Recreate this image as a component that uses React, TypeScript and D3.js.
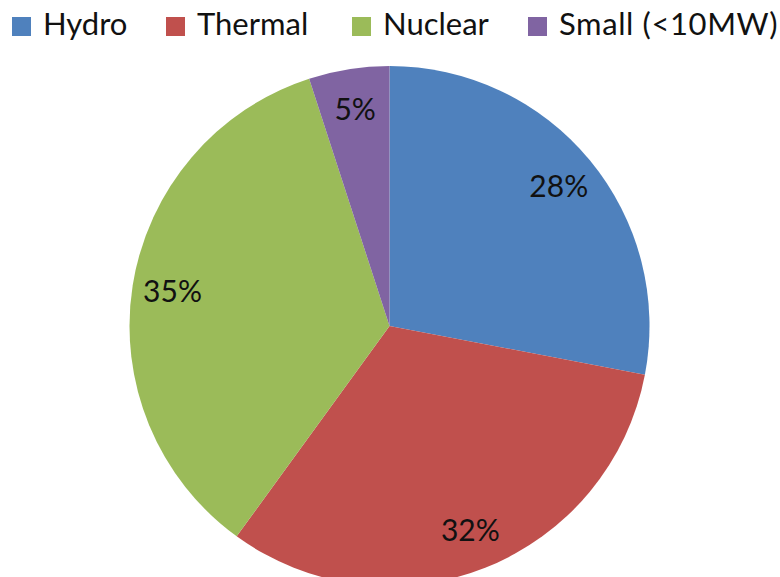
import React from "react";
import * as d3 from "d3";

const categories = ["Hydro", "Thermal", "Nuclear", "Small (<10MW)"];
const values = [28, 32, 35, 5];
const labels = ["28%", "32%", "35%", "5%"];
const colors = ["#4F81BD", "#C0504D", "#9BBB59", "#8064A2"];

const W = 780;
const H = 577;
const cx = 389.5;
const cy = 326;
const R = 260;
const legendX = [12, 166, 352, 528];
const FONT = "Lato, 'Open Sans', sans-serif";

export default function App() {
  const pie = d3.pie<number>().sort(null).value((d) => d)(values);
  const arc = d3.arc<d3.PieArcDatum<number>>().innerRadius(0).outerRadius(R);
  const labelR = R * 0.845;
  const labelArc = d3.arc<d3.PieArcDatum<number>>().innerRadius(labelR).outerRadius(labelR);

  return (
    <svg width={W} height={H} style={{ position: "absolute", left: 0, top: 0, background: "#fff" }}>
      <g transform={`translate(${cx},${cy})`}>
        {pie.map((p, i) => (
          <path key={i} d={arc(p) || ""} fill={colors[i]} />
        ))}
        {pie.map((p, i) => {
          const [x, y] = labelArc.centroid(p);
          return (
            <text key={i} x={x} y={y} dy="0.36em" textAnchor="middle" fontFamily={FONT} fontSize={30} fill="#111">
              {labels[i]}
            </text>
          );
        })}
      </g>
      <g>
        {categories.map((c, i) => (
          <g key={c} transform={`translate(${legendX[i]},0)`}>
            <rect x={0} y={17} width={19} height={19} fill={colors[i]} />
            <text x={31} y={35} fontFamily={FONT} fontSize={31} fill="#111" letterSpacing={i === 3 ? 0.6 : 0}>
              {c}
            </text>
          </g>
        ))}
      </g>
    </svg>
  );
}
